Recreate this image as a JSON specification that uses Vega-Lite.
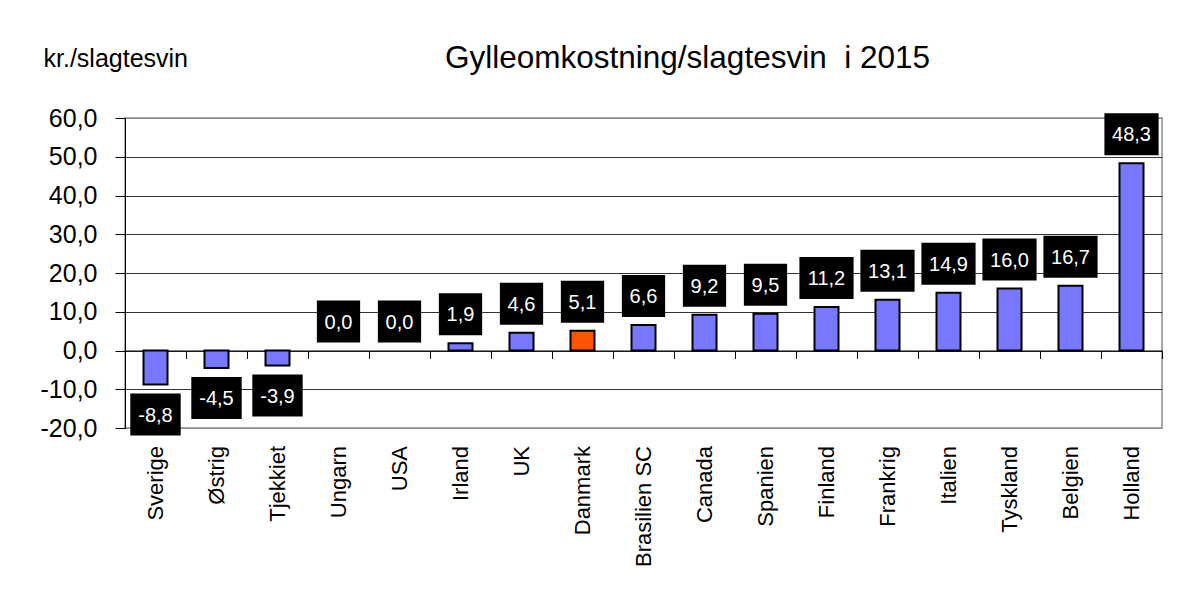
{
  "$schema": "https://vega.github.io/schema/vega-lite/v6.json",
  "width": 1037,
  "height": 310,
  "autosize": {"type": "none"},
  "padding": {"left": 125, "top": 118, "right": 20, "bottom": 166},
  "background": "white",
  "config": {
    "font": "Liberation Sans",
    "view": {"stroke": "#8c8c8c", "strokeWidth": 1.5},
    "locale": {"number": {"decimal": ",", "thousands": ".", "grouping": [3], "currency": ["", " kr."], "minus": "-"}}
  },
  "title": {
    "text": "Gylleomkostning/slagtesvin \u00a0i 2015",
    "fontSize": 31.5,
    "fontWeight": "normal",
    "color": "black",
    "anchor": "middle",
    "baseline": "alphabetic",
    "offset": 48,
    "dx": 44,
    "dy": 101
  },
  "data": {
    "values": [
      {"land": "Sverige", "v": -8.8},
      {"land": "Østrig", "v": -4.5},
      {"land": "Tjekkiet", "v": -3.9},
      {"land": "Ungarn", "v": 0.0},
      {"land": "USA", "v": 0.0},
      {"land": "Irland", "v": 1.9},
      {"land": "UK", "v": 4.6},
      {"land": "Danmark", "v": 5.1},
      {"land": "Brasilien SC", "v": 6.6},
      {"land": "Canada", "v": 9.2},
      {"land": "Spanien", "v": 9.5},
      {"land": "Finland", "v": 11.2},
      {"land": "Frankrig", "v": 13.1},
      {"land": "Italien", "v": 14.9},
      {"land": "Tyskland", "v": 16.0},
      {"land": "Belgien", "v": 16.7},
      {"land": "Holland", "v": 48.3}
    ]
  },
  "encoding": {
    "x": {
      "field": "land",
      "type": "nominal",
      "sort": null,
      "scale": {"paddingInner": 0, "paddingOuter": 0},
      "axis": {
        "title": null,
        "orient": "bottom",
        "offset": -77.5,
        "tickBand": "extent",
        "tickSize": 8,
        "tickColor": "black",
        "domainColor": "black",
        "labelAngle": -90,
        "labelFontSize": 22,
        "labelColor": "black",
        "labelPadding": 87,
        "grid": false
      }
    },
    "y": {
      "field": "v",
      "type": "quantitative",
      "scale": {"domain": [-20, 60], "nice": false, "zero": true},
      "axis": {
        "title": "kr./slagtesvin",
        "titleAngle": 0,
        "titleAlign": "left",
        "titleBaseline": "alphabetic",
        "titleX": -82,
        "titleY": -52,
        "titleFontSize": 25,
        "titleFontWeight": "normal",
        "titleColor": "black",
        "values": [-20, -10, 0, 10, 20, 30, 40, 50, 60],
        "format": ".1f",
        "labelFontSize": 25,
        "labelColor": "black",
        "labelPadding": 18,
        "tickSize": 10,
        "tickColor": "black",
        "domainColor": "black",
        "grid": true,
        "gridColor": {"condition": {"test": "datum.value == 60 || datum.value == -20", "value": "#8c8c8c"}, "value": "#333333"},
        "gridOpacity": 1
      }
    }
  },
  "layer": [
    {
      "mark": {"type": "bar", "size": 24, "stroke": "black"},
      "encoding": {
        "color": {"condition": {"test": "datum.land === 'Danmark'", "value": "#FF5500"}, "value": "#7878FF"},
        "strokeWidth": {"condition": {"test": "datum.v == 0", "value": 0}, "value": 2}
      }
    },
    {
      "transform": [{"filter": "datum.v >= 0"}],
      "mark": {"type": "point", "filled": true, "color": "black", "opacity": 1, "size": 1764, "yOffset": -29},
      "encoding": {
        "shape": {"condition": {"test": "datum.v >= 10", "value": "M-1.29,-1H1.29V1H-1.29Z"}, "value": "M-1.03,-1H1.03V1H-1.03Z"}
      }
    },
    {
      "transform": [{"filter": "datum.v >= 0"}],
      "mark": {"type": "text", "color": "white", "fontSize": 20, "baseline": "middle", "align": "center", "dy": -28},
      "encoding": {"text": {"field": "v", "type": "quantitative", "format": ".1f"}}
    },
    {
      "transform": [{"filter": "datum.v < 0"}],
      "mark": {"type": "point", "filled": true, "color": "black", "opacity": 1, "size": 1764, "yOffset": 30},
      "encoding": {
        "shape": {"value": "M-1.2,-1H1.2V1H-1.2Z"}
      }
    },
    {
      "transform": [{"filter": "datum.v < 0"}],
      "mark": {"type": "text", "color": "white", "fontSize": 20, "baseline": "middle", "align": "center", "dy": 31},
      "encoding": {"text": {"field": "v", "type": "quantitative", "format": ".1f"}}
    }
  ]
}
